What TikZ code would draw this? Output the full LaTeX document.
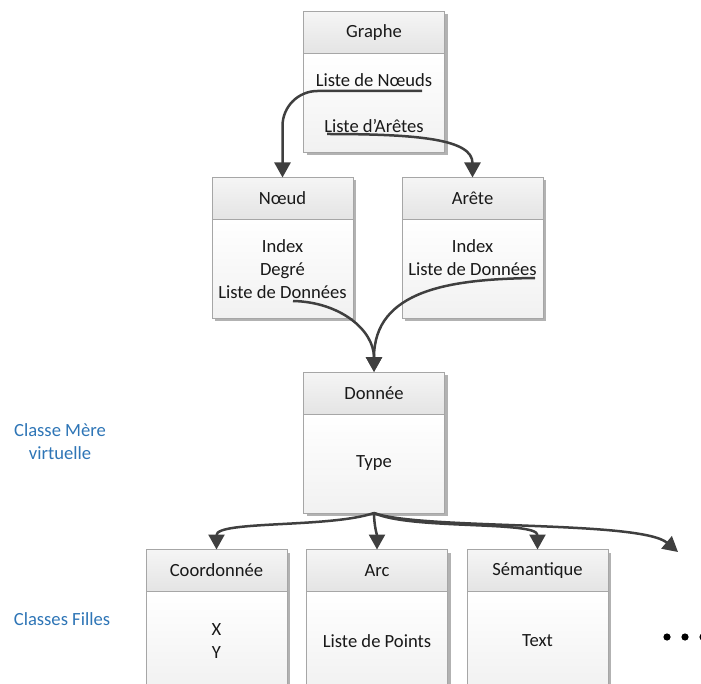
\documentclass[tikz,border=0pt]{standalone}
\usepackage{fontspec}
\setmainfont{Carlito}
\usepackage{tikz}
\usetikzlibrary{calc,positioning,arrows.meta,shadows}

\definecolor{cadre}{HTML}{A6A6A6}
\definecolor{fleche}{HTML}{3F3F3F}
\definecolor{bleu}{HTML}{2E75B6}
\definecolor{enteteH}{HTML}{F5F5F5}
\definecolor{enteteB}{HTML}{E4E4E4}
\definecolor{corpsB}{HTML}{F1F1F1}

\begin{document}
\begin{tikzpicture}[x=1pt,y=1pt,
	every node/.style={font=\fontsize{18.6}{23}\selectfont,text=black!90},
	entete/.style={draw=cadre,line width=0.9pt,top color=enteteH,bottom color=enteteB,
		minimum width=141pt,minimum height=42pt,inner sep=0pt,outer sep=0pt,
		drop shadow={shadow xshift=3pt,shadow yshift=-3pt,opacity=.3,fill=black}},
	corps/.style={entete,top color=white,bottom color=corpsB,minimum height=99pt,align=center},
	lien/.style={draw=fleche,line width=2.5pt,-{Triangle[length=15pt,width=16pt]}},
	note/.style={text=bleu,align=center}]
	\useasboundingbox (0,0) rectangle (701,-684);
	\clip (0,0) rectangle (701,-684);
	\def\classe#1#2#3#4{
		\node[entete] (#1) at (#2) {#3};
		\node[corps,below=0pt of #1] (#1-b) {#4};
	}
	% classes
	\classe{graphe}{374,-32.5}{Graphe}{Liste de Nœuds\\~\\Liste d’Arêtes}
	\classe{noeud}{282.5,-198.5}{Nœud}{Index\\Degré\\Liste de Données}
	\classe{arete}{472.5,-198.5}{Arête}{Index\\Liste de Données\\~}
	\classe{donnee}{374,-393}{Donnée}{Type}
	\classe{coord}{216.5,-570.5}{Coordonnée}{X\\Y}
	\classe{arc}{377,-570.5}{Arc}{Liste de Points}
	\classe{semantique}{537.5,-570.5}{Sémantique}{Text}
	% legendes
	\node[note] (mere) at (60,-442) {Classe Mère\\virtuelle};
	\node[note] (filles) at (62,-619) {Classes Filles};
	% departs des liens
	\coordinate (g-noeuds) at ($(graphe-b.center)+(48,12)$);
	\coordinate (g-aretes) at ($(graphe-b.center)+(-47,-31)$);
	\coordinate (n-donnees) at ($(noeud-b.center)+(10.5,-32)$);
	\coordinate (a-donnees) at ($(arete-b.center)+(62.5,-9)$);
	\coordinate (suite) at (678,-552);
	% liens
	\draw[lien,rounded corners=35pt] (g-noeuds) -| (noeud.north);
	\draw[lien] (g-aretes) .. controls +(93,0) and +(0,38) .. (arete.north);
	\draw[lien] (n-donnees) .. controls +(47,-1) and +(0,42) .. (donnee.north);
	\draw[lien] (a-donnees) .. controls +(-85,-1) and +(0,82) .. (donnee.north);
	\draw[lien] (donnee-b.south) .. controls +(-44,-15) and +(0,29) .. (coord.north);
	\draw[lien] (donnee-b.south) .. controls +(0,-12) and +(0,14) .. (arc.north);
	\draw[lien] (donnee-b.south) .. controls +(36,-17) and +(0,29) .. (semantique.north);
	\draw[lien] (donnee-b.south) .. controls +(46,-17) and +(-38,32) .. (suite);
	% et les autres...
	\foreach \x in {667,685,703} \fill[black] (\x,-637) circle (3.6pt);
\end{tikzpicture}
\end{document}
